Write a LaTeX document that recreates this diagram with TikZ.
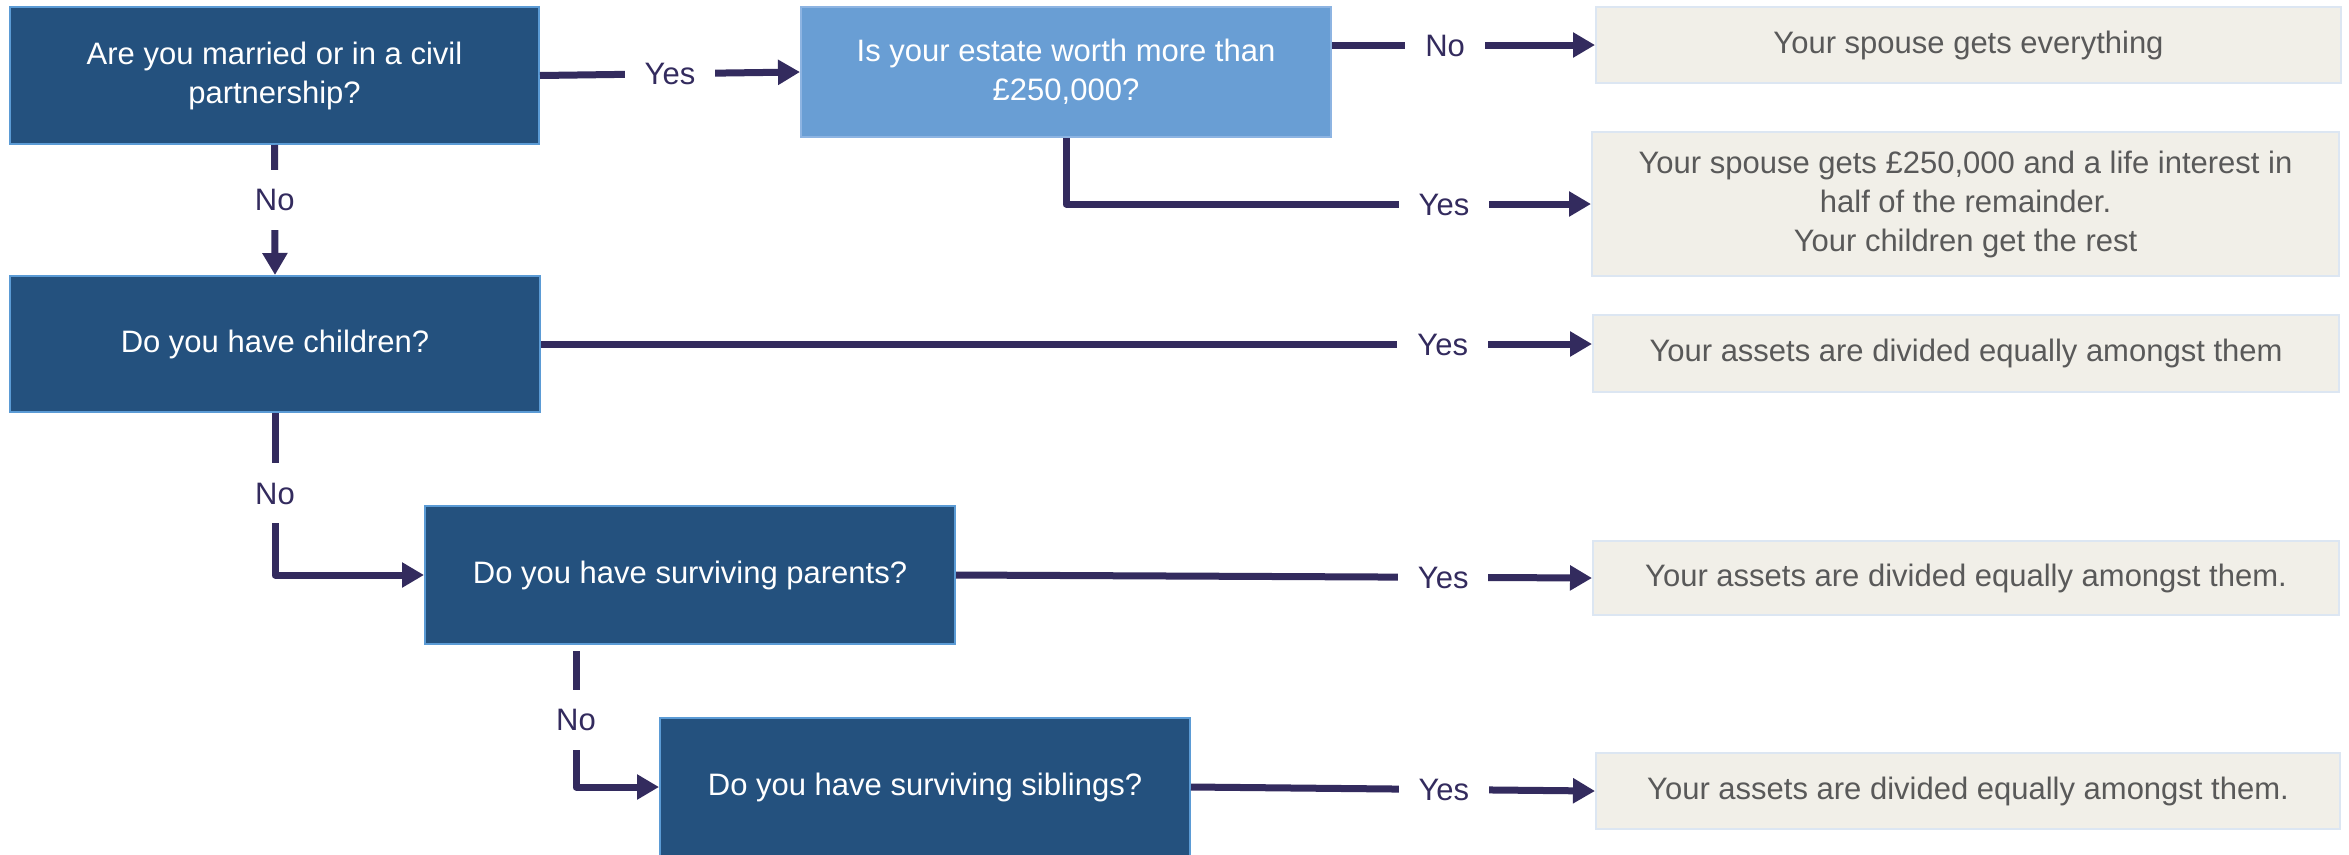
\documentclass[tikz,border=0pt]{standalone}
\usepackage{fontspec}
\setmainfont{Liberation Sans}
\usetikzlibrary{arrows.meta,calc}
\definecolor{navy}{RGB}{36,81,126}
\definecolor{lightq}{RGB}{105,158,212}
\definecolor{beige}{RGB}{241,239,232}
\definecolor{arrowc}{RGB}{51,43,94}
\definecolor{edgeblue}{RGB}{91,155,213}
\definecolor{edgelight}{RGB}{141,180,226}
\definecolor{edgebeige}{RGB}{220,230,242}
\definecolor{graytext}{RGB}{89,89,89}
\begin{document}
\begin{tikzpicture}[x=1pt,y=-1pt,
  txt/.style={font=\fontsize{31}{39}\selectfont, align=center, inner sep=0pt},
  qbox/.style={txt, draw=edgeblue, line width=2pt, fill=navy, text=white},
  lqbox/.style={txt, draw=edgelight, line width=2pt, fill=lightq, text=white},
  abox/.style={txt, draw=edgebeige, line width=2pt, fill=beige, text=graytext},
  conn/.style={draw=arrowc, line width=7pt, line join=round},
  arr/.style={-{Triangle[length=22pt,width=24pt]}},
  lbl/.style={fill=white, text=arrowc, font=\fontsize{31}{38}\selectfont,
    inner xsep=20pt, inner ysep=0pt, text height=22pt, text depth=0pt, minimum height=60pt}
]
\useasboundingbox[fill=white] (0,0) rectangle (2349,854);

% question boxes
\node[qbox, minimum width=529pt, minimum height=137pt] (A) at (274.5,75.5)
  {Are you married or in a civil\\partnership?};
\node[lqbox, minimum width=530pt, minimum height=130pt] (B) at (1066,72)
  {Is your estate worth more than\\£250,000?};
\node[qbox, minimum width=530pt, minimum height=136pt] (E) at (275,344)
  {Do you have children?};
\node[qbox, minimum width=530pt, minimum height=138pt] (G) at (690,575)
  {Do you have surviving parents?};
\node[qbox, minimum width=530pt, minimum height=138pt] (H) at (925,787)
  {Do you have surviving siblings?};

% answer boxes
\node[abox, minimum width=745pt, minimum height=76pt] (C) at (1968.5,45)
  {Your spouse gets everything};
\node[abox, minimum width=747pt, minimum height=144pt] (D) at (1965.5,204)
  {Your spouse gets £250,000 and a life interest in\\half of the remainder.\\Your children get the rest};
\node[abox, minimum width=746pt, minimum height=77pt] (F) at (1966,353.5)
  {Your assets are divided equally amongst them};
\node[abox, minimum width=746pt, minimum height=74pt] (I) at (1966,578)
  {Your assets are divided equally amongst them.};
\node[abox, minimum width=744pt, minimum height=76pt] (J) at (1968,791)
  {Your assets are divided equally amongst them.};

% connectors
\draw[conn,arr] (A.east) -- node[lbl]{Yes} (B.west);
\draw[conn,arr] (B.east |- C.west) -- node[lbl,pos=0.43]{No} (C.west);
\draw[conn,arr] (B.south) |- node[lbl,pos=0.86]{Yes} (D.west);
\draw[conn,arr] (A.south) -- node[lbl,pos=0.42]{No} (E.north);
\draw[conn,arr] (E.east) -- node[lbl,pos=0.858]{Yes} (E.east -| F.west);
\draw[conn,arr] (E.south) |- node[lbl,pos=0.248]{No} (G.west);
\draw[conn,arr] (G.east) -- node[lbl,pos=0.766]{Yes} (I.west);
\draw[conn,arr] ([xshift=152pt,yshift=-6pt]G.south west) |- node[lbl,pos=0.252]{No} (H.west);
\draw[conn,arr] (H.east) -- node[lbl,pos=0.626]{Yes} (J.west);
\end{tikzpicture}
\end{document}
